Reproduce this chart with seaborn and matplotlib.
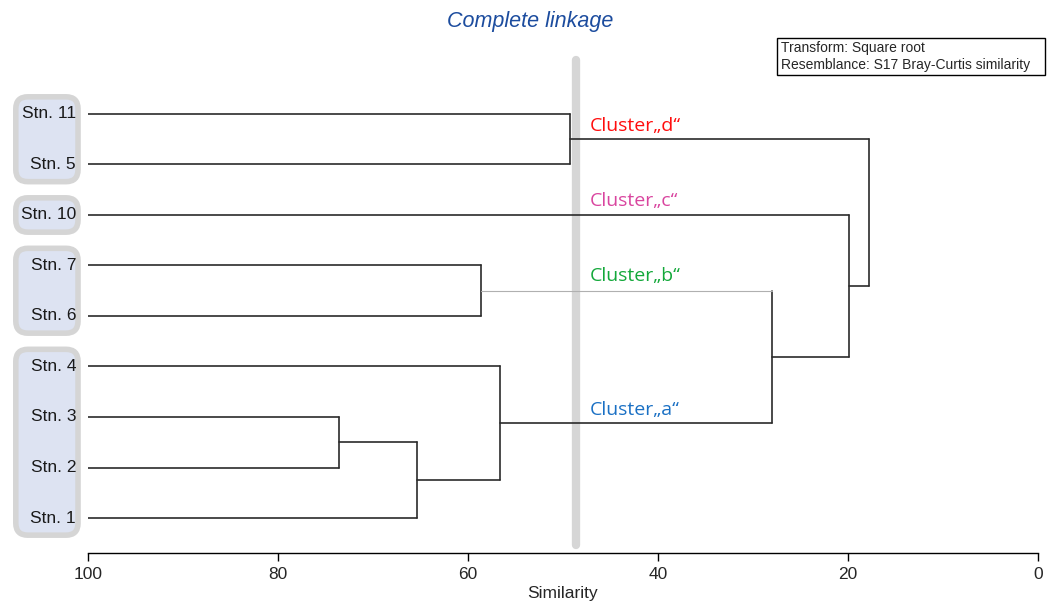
import numpy as np
import pandas as pd
import matplotlib
matplotlib.use("Agg")
import matplotlib.pyplot as plt
import seaborn as sns
from matplotlib.patches import FancyBboxPatch, Rectangle
from matplotlib.transforms import IdentityTransform

# ---------------- data ----------------
leaves = ["Stn. 11", "Stn. 5", "Stn. 10", "Stn. 7", "Stn. 6",
          "Stn. 4", "Stn. 3", "Stn. 2", "Stn. 1"]
# merges: (left child id, right child id, similarity); leaves are 0..8, new nodes 9..
merge_left = [6, 9, 5, 3, 0, 12, 2, 13]
merge_right = [7, 8, 10, 4, 1, 11, 14, 15]
merge_sim = [73.6, 65.4, 56.6, 58.6, 49.3, 28.0, 19.9, 17.8]
light_links = [12]          # node whose link to its parent is drawn thin/light
cut_level = 48.6
cluster_names = ["Cluster\u201ed\u201c", "Cluster\u201ec\u201c", "Cluster\u201eb\u201c", "Cluster\u201ea\u201c"]
cluster_colors = ["#ff0d0d", "#d9459f", "#13a83a", "#1a70c4"]
cluster_label_pos = [0.24, 1.72, 3.21, 5.86]
groups = [["Stn. 11", "Stn. 5"], ["Stn. 10"], ["Stn. 7", "Stn. 6"],
          ["Stn. 4", "Stn. 3", "Stn. 2", "Stn. 1"]]
xticks = [100, 80, 60, 40, 20, 0]

# ---------------- build dendrogram segments ----------------
n = len(leaves)
node_y = {i: float(i) for i in range(n)}
node_h = {i: 100.0 for i in range(n)}
rows = []
seg = 0
for k, (l, r, s) in enumerate(zip(merge_left, merge_right, merge_sim)):
    nid = n + k
    for c in (l, r):
        kind = "light" if c in light_links else "dark"
        rows += [dict(seg=seg, sim=node_h[c], pos=node_y[c], kind=kind),
                 dict(seg=seg, sim=s, pos=node_y[c], kind=kind)]
        seg += 1
    rows += [dict(seg=seg, sim=s, pos=node_y[l], kind="dark"),
             dict(seg=seg, sim=s, pos=node_y[r], kind="dark")]
    seg += 1
    node_y[nid] = (node_y[l] + node_y[r]) / 2
    node_h[nid] = s
df = pd.DataFrame(rows)

# ---------------- figure ----------------
sns.set_style("white")
plt.rcParams["font.family"] = ["Liberation Sans", "DejaVu Sans"]

W, H = 1056, 605
fig = plt.figure(figsize=(W / 100, H / 100), dpi=100)
ax = fig.add_axes([88 / W, 1 - 553 / H, (1038 - 88) / W, (553 - 40) / H])
ax.set_xlim(100, 0)
ax.set_ylim(8.693, -1.465)

# cut line
ax.plot([cut_level, cut_level], [-1.07, 8.535], color="#d6d6d6", lw=6,
        solid_capstyle="round", zorder=1)

sns.lineplot(data=df, x="sim", y="pos", units="seg", estimator=None, sort=False,
             hue="kind", palette={"dark": "#2b2b2b", "light": "#b0b0b0"},
             size="kind", sizes={"dark": 1.2, "light": 0.8},
             legend=False, ax=ax, zorder=3)

# cluster labels
for name, col, yp in zip(cluster_names, cluster_colors, cluster_label_pos):
    ax.text(47.2, yp, name, color=col, fontsize=14, va="center", ha="left",
            family=["Open Sans", "DejaVu Sans"], zorder=4)

# station labels & boxes
fig.canvas.draw()
for g in groups:
    idx = [leaves.index(s) for s in g]
    top, bot = min(idx) - 0.34, max(idx) + 0.34
    (x0, y0), (x1, y1) = ax.transData.transform([(107.6, bot), (101.05, top)])
    box = FancyBboxPatch((x0, y0), x1 - x0, y1 - y0,
                         boxstyle="round,pad=0,rounding_size=12",
                         transform=IdentityTransform(), fc="#dde3f2",
                         ec="#d5d5d5", lw=4, clip_on=False, zorder=-1)
    fig.patches.append(box)
for i, s in enumerate(leaves):
    ax.text(101.26, i, s, ha="right", va="center", fontsize=12.5,
            color="#1a1a1a", clip_on=False, zorder=5)

# axes styling
ax.patch.set_alpha(0)
for sp in ("top", "right", "left"):
    ax.spines[sp].set_visible(False)
ax.spines["bottom"].set_color("black")
ax.spines["bottom"].set_linewidth(1.0)
ax.set_yticks([])
ax.set_xticks(xticks)
ax.set_xticklabels([str(t) for t in xticks], fontsize=12.5)
ax.tick_params(axis="x", direction="out", length=6, width=1, color="black",
               bottom=True, pad=4)
ax.set_xlabel("Similarity", fontsize=12.5, labelpad=3)
ax.set_ylabel("")

# title and info box
fig.text(530 / W, 1 - 22 / H, "Complete linkage", ha="center", va="center",
         fontsize=15.5, style="italic", color="#1c4c9e")
fig.patches.append(Rectangle((777 / W, 1 - 75 / H), (1045 - 777) / W, 37 / H,
                             transform=fig.transFigure, fc="white", ec="black",
                             lw=1, zorder=5))
fig.text(781 / W, 1 - 56.5 / H,
         "Transform: Square root\nResemblance: S17 Bray-Curtis similarity",
         ha="left", va="center", fontsize=10, linespacing=1.3, zorder=6)

fig.savefig("out.png", dpi=100)
